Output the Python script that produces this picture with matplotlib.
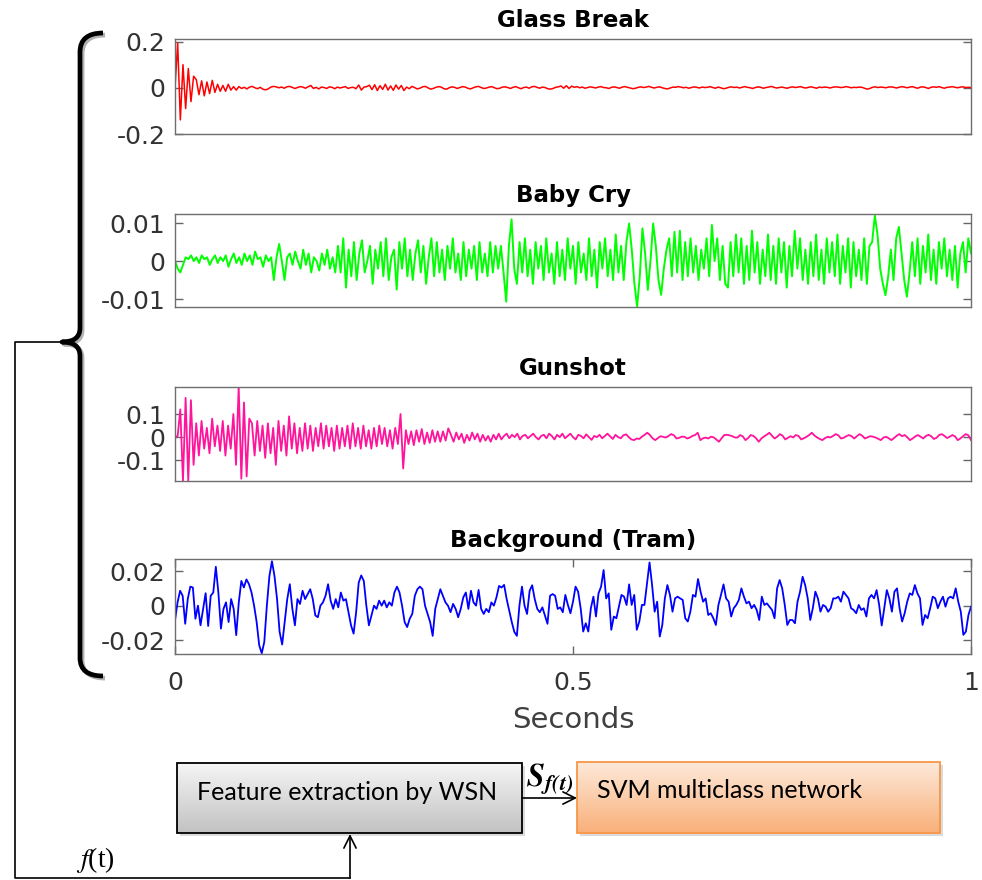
import numpy as np
import matplotlib
matplotlib.use('Agg')
import matplotlib.pyplot as plt
from matplotlib.path import Path
from matplotlib.patches import PathPatch, Rectangle
from matplotlib.colors import LinearSegmentedColormap
import matplotlib.patheffects as pe

plt.rcParams['axes.unicode_minus'] = False
plt.rcParams['mathtext.fontset'] = 'stix'

glass_break = np.array([
    0, 19.4, -13.9, 10, -9, 8.3, -6, 5,
    3.5, -3, 3, -3.5, 2.5, -2.5, 3.2, -2,
    1.5, -1.5, 1, -1.5, 1.5, -1, 0.5, -1,
    0.5, -0.3, 0.2, -0.5, 0.3, 0.6, 0, -0.4, 0.2, -0.6, -0.9, -0.5, 0.3, 0.6, 0.4, 0, 0.3, -0.2, 0.4, 0.6, 0.2, -0.3, 0.1, 0.5,
    0.3, -0.2, 0.4, 1.0, -0.3, 0.2, -0.5, 0.3, 0.1, -0.3, 0.4, 0.2, -0.4, 0.3, -0.1, 0.2, 0.5, -0.3, 0.1,
    0.2, -0.4, 1.2, -1.0, 0.3, 0.5, 1.1, -0.8, 1.3, -1.2, 0.9, -0.7, 1.5, -1.0, 0.8, -1.1, 1.2, -0.6, 1.0,
    -1.2, 0.3, -0.4, 0.6, 0.1, -0.5, -0.2, 0.4, 0.6, 0, -0.6, -0.3, 0.2, 0.5, 0.3, -0.4, -0.6, 0, 0.4, 0.2,
    -0.3, 0.1, 0.5, 0.3, -0.2, -0.5, 0, 0.4, 0.6, 0.1, -0.3, -0.1, 0.3, 0.5, 0, -0.4, -0.2, 0.3,
    0.4, 0.1, -0.3, 0.2, 0.5, 0, -0.4, 0.1, 0.3, -0.2, 0.4, 0.6, 0.2, -0.2, 0.3, 0.1, -0.4, -0.6, -0.3, 0.2,
    0.4, 0.8, -0.2, 0.9, -0.3, 0.7, 0.2, 0.5, 0, 0.3, -0.2, 0.1, 0.4, 0.2, -0.1, 0.3, 0.5, 0.1,
    0, -0.3, 0.2, 0.4, 0.1, -0.2, 0.3, 0.5, 0.2, -0.1, -0.4, -0.2, 0.2, 0.4, 0.1, 0.3, 0.6, 0.2, -0.1, 0.2,
    0.4, 0, -0.3, -0.5, -0.1, 0.3, 0.2, 0.5, 0.3, 0, 0.2, -0.2, 0.1, 0.4, 0.2, -0.1, 0.3, 0.1,
    0.2, 0.5, 0.1, -0.2, 0.3, 0, -0.4, -0.2, 0.2, 0.4, 0.1, 0.3, -0.1, 0.2, 0.5, 0.2, 0, -0.3, 0.1, 0.4,
    0.2, -0.2, 0.1, 0.3, 0.6, 0.2, -0.1, 0.1, 0.3, 0, -0.2, 0.2, 0.4, 0.1, 0.3, 0.5, 0.1, -0.1,
    0.2, 0.4, 0.1, -0.2, 0.3, 0.1, 0.3, 0.2, -0.1, 0.2, 0.4, 0.3, 0.1, 0.2, 0.5, 0.3, 0, 0.2, 0.1, 0.3,
    0.2, -0.2, -0.6, -0.3, 0.2, 0.4, 0.1, 0.3, 0.2, 0, 0.3, 0.4, 0.2, -0.1, 0.2, 0.5, 0.3, 0,
    0.3, 0.5, 0.1, -0.2, 0.3, 0.4, 0.1, -0.3, 0.2, 0.4, 0.2, 0.5, 0.1, -0.2, 0.2, 0.3, 0.5, 0.2, 0, 0.3,
    0.4, 0.1, 0.2, 0.1]) * 1e-2

baby_cry = np.array([
    0, -2, -3, -1,
    1, 0.5, 1.5, 0, 1, -0.5, 1.5, 0.5, 1, -1, 0.5, 1.5, -0.5, 1, 0, 1.5, -1.5, 0.5, 2, -0.5,
    1, -1, 2, 0, 1.5, -1, 2.5, 0.5, 1, -1.5, 1.5, 0, 1,
    -5, 1, 4.5, 0, -5,
    1, 2, -1, 2.5, 0, -2, 3, -1, 2, -3, 1, 0, -2.5, 2, -1, 3, -2, 1, -3,
    4, -3, 6, -7, 3, -4, 5, -5, 2, 5.5, -3, 0, 4, -6, 3, -2, 5, -4, 6, -5,
    1, 3, -7.5, 5, -2, 6, -4, 3, -5, 2, 5.5, -3, 4, -6, 1,
    6, -4, 5, -3, 3, -5, 4, -2, 6, -3, 2, -5, 5, -4, 3, -2, 4, -5, 5, -3, 2, -4, 5, -3, 4, -2,
    4, -3, -10.7, 4, 11, -2,
    -6, 5, -3, 6, -4, 3, -6, 5, -2, 4, -5, 6, -3, 2, -6, 5, -4, 3, -5, 6,
    -2, 4, -6, 5, -3, 2, -5, 6, -4, 3, -7, 5, -2, 6, -4, 3, -5, 7, -3, 4, -5,
    5, 9.9, 3, -6, -12, -4, 8.6, 2, -7.6, 0, 9.9, 4, -5, -8.9, -2, 3,
    6, -4, 7.7, -3, 8, -5, 5, -4, 6, -3, 4, -5, 3, -2, 6, -4, 9.5, 0, 6, -5, 4, -6,
    -7, 5, -4, 7, -3, 6, -6, 4, -5, 8, -3, 5, -6, 3, -4, 7, -5, 4, -6, 6,
    -3, 5, -7, 4, -4, 8, -2, 6, -5, 3, -6, 5, -4, 7, -5, 3, -6, 6, -3, 5,
    -4, 7, -6, 4, -3, 6, -7, 5, -4, 3, -5, 6, -6, 4,
    5, 12, 7, -2, -6, -9, -4, 3, -5,
    6, 9, 2, -5, -9.4, -3, 5, -4, 6, -6, 4, -3, 7, -5, 3, -6, 5, -2, 6, -4,
    3, -5, 4, -7, 2, 5, -3, 6, 2]) * 1e-3

gunshot = np.array([
    0, 0.5,
    12, -19, 17, -19, 16, -12,
    6, -8, 7, -5, 4, -7, 8, -4, 5, -6, 7, -8, 5, -5,
    10, -12, 22, -18, 15, -17, 8,
    6, -8, 7, -6, 5, -9, 6, -7, 4, -12, 7, -6, 5, -8, 9, -5, 6, -7, 4, -6,
    6, -5, 5, -6, 4, -4, 6, -5, 5, -4, 4, -6, 5, -5, 4, -4, 5, -5, 6, -4,
    4, -5, 5, -4, 3, -5, 4, -4, 5, -3, 4, -4, 3, -5, 4, -3,
    10, -13.6,
    3, -3, 2.5, -3.5, 3, -2, 3.5, -3, 2, -2.5, 3, -2, 2.5,
    -2, 2.5, -1.5, 3.8, 1, -2, 2, -1, 1.5, -2.5, 1, -1.5, 2, -1, 1.5, -2, 1, -1.5, 0.5, -2,
    1, -1, 1.5, -1,
    0.5, 1.5, -0.5, 1, 0, 1.5, -1, 0.5, 1, -0.5, 0.5, 1.5, 0, -1, 0.5, 1, -0.5, 1.5, 0.5, -1,
    1, 0, 1.5, -0.5, 0.5, 1.5, 0, -1, 1, 0.5, -0.5, 1.2, 0, -1.2, 0.5, 0, 1, -0.5, 0.5, 1.5,
    0.3, -0.8, 1, 0, -0.5, 0.8, 1.2, 0, -1,
    -1.3, -0.6, -0.8, 0.2, 1.0, 1.9, 0.9, -0.5, -1.3, -0.4, 0.4, 0.1, -0.2, 0.5, 1.3, 0.8, -0.6, -0.3, 0.2, 0.15,
    -0.6, -0.2, 0.5, 0.9, 1.9, -1.3, -0.5, -0.2, -0.6, 0.2, -0.1, -1.0, -2.0, -0.5, 0.9, 1.0, 0.8, 0.4, -0.15, -0.2,
    0.9, 0.3, -1.3, -0.4, 0.9, 0.5, -0.5, -2.0, -0.6, 0.3, 1.0, 1.9, 0.6, -0.6, 0.2, 1.3, 0.6, -1.0, -0.3, 0.4,
    -0.15, 0.9, 0.5, -1.0, -0.5, 0.15, 0.9, 1.9, 0.7, -0.15, -0.8, -1.3, -0.4, 0.15, -0.15, 0.5, 1.3, 0.8, -0.6, -0.3,
    0.4, 0.9, 0.4, -0.6, 0.4, 1.3, 0.6, -0.6, -0.1, 0.4, 0.2, -0.15, -0.7, -1.3, -0.2, 0.15, -0.5, -1.3, -0.4, 0.6,
    1.3, 0.4, 0.9, -0.1, -1.3, -0.6, 0.3, 0.9, 0.2, -0.6, 0.5, 1.0, 0.4, -0.8, -0.3, 0.9, 1.3, 0.5, -0.4, 0.2,
    0.9, 0.3, -1.3, -0.6, 0.4, 1.3, 0.8, -1.3]) * 1e-2

tram = np.array([
    -8.6, 1.9, 8.6, 5.7, -10.5, 3.8, 11.0, 10.5, -7.6, 0, -11.4, -1.9, 7.2, -11.8, 5.7, 7.6, 22.5, 7.6, -13.3, -1.9,
    1.9, -9.5, 3.8, -1.9, -17.1, 1.9, 14.3, 10.5, 15.2, 12.4, 7.6, 0, -9.5, -22.9, -27.6, -21.0, 0, 17.1, 25.7, 17.1,
    3.8, -15.2, -22.5, -9.5, 3.8, 12.4, -1.9, -11.4, 3.8, 1.0, 8.6, 3.8, 6.7, 9.5, 3.8, -5.7, -6.7, 0, 1.9, 5.7,
    12.4, 2.9, -1.9, 3.8, -1.0, 7.6, 2.9, 3.8, -3.8, -11.4, -16.2, -3.8, 13.3, 17.5, 14.3, 0, -11.4, -5.7, 0, -1.9,
    2.9, 0, 2.9, -1.0, 1.9, 0, 7.6, 11.0, 7.6, 0, -9.5, -12.4, -7.6, -4.8, 5.7, 9.5, 11.0, 9.5, 0, -4.8,
    -9.5, -17.5, -1.9, 3.8, 9.5, 5.7, 1.9, 0, -3.8, 1.0, -1.9, -6.7, -1.9, 4.8, 7.6, -1.9, 8.6, 1.9, 0, 9.1,
    -1.9, -4.8, -1.9, -3.8, 1.9, 0, 4.8, 11.4, 10.5, 12.0, 3.8, -2.9, -9.5, -15.2, -17.5, 0, 11.0, 0, -4.8, 8.6,
    11.8, 3.8, -1.9, -3.8, -1.0, -5.7, -10.5, 5.7, 6.7, 5.7, -1.9, -1.0, -3.8,
    6.2, 0.4, -4.4, 2.3, 11.0, 8.1, -1.5, -15.0, -10.2, -15.0, -1.5, 5.2, -6.3, 7.1, 11.0, 20.6, 4.2, 7.1, -14.0, -6.3,
    -7.3, -0.6, 6.2, 5.2, 0.4, 12.3, 0.4, 6.2, -14.0, -9.2, 0.4, 0.4, 12.9, 25.0, 11.9, -3.5, 2.3, -17.9, -11.2, 4.2,
    11.9, 6.2, -3.5, 4.2, 5.2, 4.2, 3.3, -7.3, -9.2, -3.5, 6.2, 5.2, 15.4, 8.1, 2.3, 4.2, -5.4, -4.4, -7.3, -11.2,
    0.4, 6.2, 12.3, 4.2, 2.3, -6.3, -1.5, 0.4, 3.3, 10.0, 5.2, 1.3, 2.3, -1.5, 0.4, -2.5, -8.3, 5.2, 0.4, 1.3,
    -0.6, -2.5, -7.3, 10.0, 14.8, 10.0, 0.4, -11.2, -8.3, -8.3, -10.2, 2.3, 8.1, 16.7, 11.9, 4.2, -8.3, -1.5, 8.1, 4.2,
    -3.5, 0.4, -0.6, -3.5, -1.5, 4.2, 4.2, 5.2, 2.3, 8.1, 6.2, 4.2, -1.5, -2.5, -4.4, 0.4, -2.5, -1.5, -6.3, 4.2,
    6.2, 4.2, 9.0, 0.4, -11.5, -1.5, 9.0, 4.2, -3.5, 8.1, 10.0, -1.5, -9.2, -4.4, 2.3, 7.1, 6.2, 11.9, 7.1, 4.2,
    -11.2, -5.4, -7.3, -1.5, 5.2, 4.2, -1.5, 2.3, 5.2, -0.6, 4.2, 5.2, 4.2, 10.0, 2.3, -3.5, -16.9, -15.0, -5.4, -0.6]) * 1e-3

titles = ['Glass Break', 'Baby Cry', 'Gunshot', 'Background (Tram)']
signals = [glass_break, baby_cry, gunshot, tram]
colors = ['#ff0000', '#00ff00', '#ff149b', '#0000ff']
ytick_vals = [[-0.2, 0, 0.2], [-0.01, 0, 0.01], [-0.1, 0, 0.1], [-0.02, 0, 0.02]]
ytick_labels = [['-0.2', '0', '0.2'], ['-0.01', '0', '0.01'], ['-0.1', '0', '0.1'], ['-0.02', '0', '0.02']]
ylims = [(-0.198, 0.211), (-0.0121, 0.0124), (-0.19, 0.217), (-0.028, 0.027)]
xtick_vals = [0, 0.5, 1]
xtick_labels = ['0', '0.5', '1']

W, H = 982, 880
fig = plt.figure(figsize=(W / 100, H / 100), dpi=100)


def px_box(l, t, r, b):
    return [l / W, 1 - b / H, (r - l) / W, (b - t) / H]


# overlay in pixel coordinates for the block diagram part
ov = fig.add_axes([0, 0, 1, 1], zorder=-1)
ov.patch.set_visible(False)

grad = np.linspace(0, 1, 100).reshape(-1, 1)
gray_cm = LinearSegmentedColormap.from_list('g', ['#f5f5f5', '#c2c2c2'])
orange_cm = LinearSegmentedColormap.from_list('o', ['#fde9da', '#f9b079'])

# shadows
ov.add_patch(Rectangle((180, 766), 345, 70, color='#999999', alpha=0.35, lw=0, zorder=1))
ov.add_patch(Rectangle((580, 765), 363, 71, color='#999999', alpha=0.35, lw=0, zorder=1))

ov.imshow(grad, extent=[177, 522, 833, 763], aspect='auto', cmap=gray_cm, zorder=2)
ov.add_patch(Rectangle((177, 763), 345, 70, fill=False, ec='black', lw=1.3, zorder=3))
ov.imshow(grad, extent=[577, 940, 833, 762], aspect='auto', cmap=orange_cm, zorder=2)
ov.add_patch(Rectangle((577, 762), 363, 71, fill=False, ec='#f79646', lw=1.3, zorder=3))

ov.text(347, 793, 'Feature extraction by WSN', ha='center', va='center',
        fontsize=18, family='Lato', zorder=4)
ov.text(597, 790, 'SVM multiclass network', ha='left', va='center',
        fontsize=18, family='Lato', zorder=4)

# arrow between boxes and feedback line
ov.annotate('', xy=(577, 798), xytext=(522, 798),
            arrowprops=dict(arrowstyle='->', lw=1.2, color='black',
                            mutation_scale=22, shrinkA=0, shrinkB=0))
ov.plot([62, 15, 15, 350], [342, 342, 878, 878], color='black', lw=1.2)
ov.annotate('', xy=(350, 834), xytext=(350, 878),
            arrowprops=dict(arrowstyle='->', lw=1.2, color='black',
                            mutation_scale=22, shrinkA=0, shrinkB=0))
ov.text(76, 860, r'$f$(t)', fontsize=20, family='Liberation Serif', va='center')
ov.text(526, 779, r'$\mathbfit{S}_{\mathbfit{f(t)}}$', fontsize=23, va='center')

# curly bracket
verts = [(103, 33), (80, 33), (80, 52),
         (80, 328), (80, 342), (62, 342),
         (80, 342), (80, 356),
         (80, 658), (80, 676), (103, 676)]
codes = [Path.MOVETO, Path.CURVE3, Path.CURVE3,
         Path.LINETO, Path.CURVE3, Path.CURVE3,
         Path.CURVE3, Path.CURVE3,
         Path.LINETO, Path.CURVE3, Path.CURVE3]
ov.add_patch(PathPatch(Path(verts, codes), fill=False, lw=3.4, ec='black',
                       capstyle='butt', joinstyle='round',
                       path_effects=[pe.SimpleLineShadow(offset=(1.5, -1.5), alpha=0.3),
                                     pe.Normal()]))
ov.set_xlim(0, W)
ov.set_ylim(H, 0)
ov.axis('off')

# waveform panels
rows = [(39, 134), (214, 307), (387, 481), (559, 654)]
widths = [1.1, 1.4, 1.3, 1.3]
for i, (top, bot) in enumerate(rows):
    ax = fig.add_axes(px_box(175, top, 971, bot))
    sig = signals[i]
    t = np.linspace(0, 1, len(sig))
    ax.plot(t, sig, color=colors[i], lw=widths[i])
    ax.set_xlim(0, 1)
    ax.set_ylim(*ylims[i])
    ax.set_yticks(ytick_vals[i])
    ax.set_yticklabels(ytick_labels[i], fontsize=18, color='#333333')
    ax.tick_params(axis='y', direction='in', length=6, width=1, color='#666666',
                   left=True, right=True, pad=7)
    if i == 3:
        ax.set_xticks(xtick_vals)
        ax.set_xticklabels(xtick_labels, fontsize=18, color='#333333')
        ax.tick_params(axis='x', direction='in', length=6, width=1, color='#666666',
                       top=True, bottom=True, pad=12)
        ax.set_xlabel('Seconds', fontsize=21, color='#404040', labelpad=8)
    else:
        ax.set_xticks([])
    for s in ax.spines.values():
        s.set_color('#6e6e6e')
        s.set_linewidth(1.0)
    ax.set_title(titles[i], fontsize=16.5, fontweight='bold', pad=8.5)

fig.savefig('out.png', dpi=100)
